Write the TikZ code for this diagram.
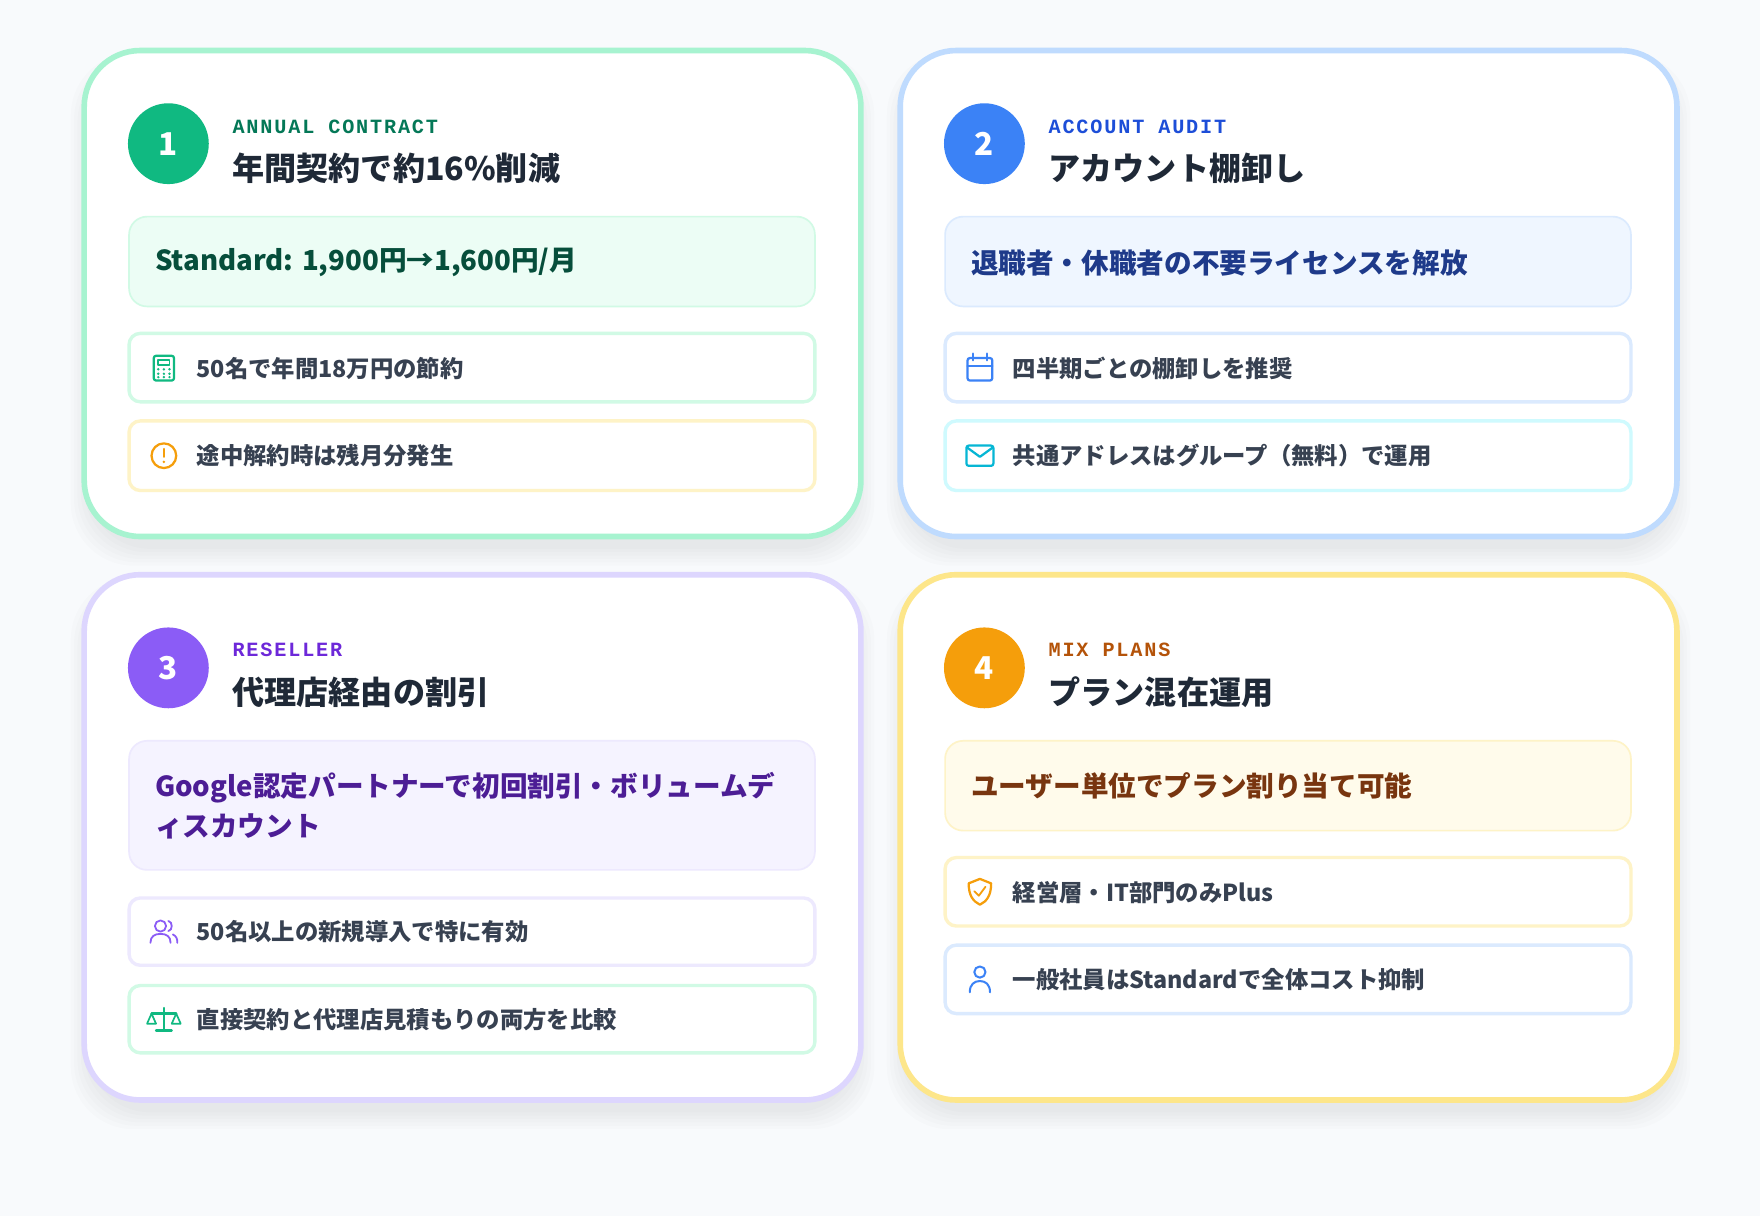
\documentclass[tikz,border=0pt]{standalone}
\usepackage{fontspec}
\setmainfont{Noto Sans CJK JP}
\newfontfamily\monofont[LetterSpace=9]{Liberation Mono}
\usetikzlibrary{positioning}

\definecolor{bg}{HTML}{F8FAFC}
\definecolor{ink}{HTML}{1F2937}
\definecolor{itemtext}{HTML}{374151}
% green
\definecolor{gA}{HTML}{A7F3D0}\definecolor{gB}{HTML}{10B981}\definecolor{gC}{HTML}{047857}
\definecolor{gD}{HTML}{ECFDF5}\definecolor{gE}{HTML}{D1FAE5}\definecolor{gF}{HTML}{064E3B}
% blue
\definecolor{bA}{HTML}{BFDBFE}\definecolor{bB}{HTML}{3B82F6}\definecolor{bC}{HTML}{1D4ED8}
\definecolor{bD}{HTML}{EFF6FF}\definecolor{bE}{HTML}{DBEAFE}\definecolor{bF}{HTML}{1E3A8A}
% purple
\definecolor{pA}{HTML}{DDD6FE}\definecolor{pB}{HTML}{8B5CF6}\definecolor{pC}{HTML}{6D28D9}
\definecolor{pD}{HTML}{F5F3FF}\definecolor{pE}{HTML}{EDE9FE}\definecolor{pF}{HTML}{4C1D95}
% amber
\definecolor{yA}{HTML}{FDE68A}\definecolor{yB}{HTML}{F59E0B}\definecolor{yC}{HTML}{B45309}
\definecolor{yD}{HTML}{FFFBEB}\definecolor{yE}{HTML}{FEF3C7}\definecolor{yF}{HTML}{78350F}
\definecolor{cyanB}{HTML}{06B6D4}\definecolor{cyanE}{HTML}{CFFAFE}

\tikzset{
  card/.style={line width=5pt, rounded corners=50pt, fill=white},
  cardshadow/.style={fill=black, opacity=0.012, rounded corners=56pt},
  badge/.style={circle, minimum size=72pt, inner sep=0pt, text=white,
    font=\fontsize{28}{30}\selectfont\bfseries},
  tag/.style={anchor=west, inner sep=0pt, font=\monofont\fontsize{18}{20}\selectfont\bfseries},
  headline/.style={anchor=west, inner sep=0pt, text=ink, font=\fontsize{28.6}{32}\selectfont\bfseries},
  hlbox/.style={line width=1.5pt, rounded corners=16pt},
  hltext/.style={anchor=west, inner sep=0pt, align=left, font=\fontsize{24.6}{36}\selectfont\bfseries},
  itembox/.style={line width=3pt, rounded corners=10pt, fill=white},
  itemtext/.style={anchor=west, inner sep=0pt, text=itemtext, font=\fontsize{20.8}{24}\selectfont\bfseries},
  icon/.style={line width=2pt, line cap=round, line join=round},
}
\newcommand\softshadow[4]{%
  \foreach \d in {0,3,...,15}
    \fill[cardshadow] (#1-\d,#2+14-\d) rectangle (#3+\d,#4+14+\d);}

\begin{document}
\begin{tikzpicture}[x=1pt, y=-1pt]
  \fill[bg] (0,0) rectangle (1568,1083);
  \useasboundingbox (0,0) rectangle (1568,1083);

  % shadows
  \softshadow{78}{48}{764}{475}
  \softshadow{805}{48}{1491}{475}
  \softshadow{78}{515}{764}{977}
  \softshadow{805}{515}{1491}{977}

  % card 1
  \draw[card, draw=gA] (75,45) rectangle (767,478);
  \node[badge, fill=gB] (b1) at (150,128) {1};
  \node[tag, text=gC] (t1) at (207,113) {ANNUAL CONTRACT};
  \node[headline] (h1) at (207,150) {年間契約で約16\%削減};
  \draw[hlbox, fill=gD, draw=gE] (115,193) rectangle (726,273);
  \node[hltext, text=gF] (s1) at (138,234) {Standard: 1,900円→1,600円/月};
  \draw[itembox, draw=gE] (115,297) rectangle (726,358);
  \node[itemtext] (i11) at (175,328) {50名で年間18万円の節約};
  \draw[itembox, draw=yE] (115,375) rectangle (726,437);
  \node[itemtext] (i12) at (175,406) {途中解約時は残月分発生};
  % calculator
  \draw[icon, gB, rounded corners=2pt] (137,317) rectangle (155,339);
  \draw[icon, gB, line width=1.5pt] (141,321) rectangle (151,325);
  \foreach \px in {141,146,151} \foreach \py in {329,333,336}
    \fill[gB] (\px,\py) circle (1.2pt);
  % alert
  \draw[icon, yB] (146,406) circle (11pt);
  \draw[icon, yB] (146,400) -- (146,407);
  \fill[yB] (146,411.5) circle (1.3pt);

  % card 2
  \draw[card, draw=bA] (802,45) rectangle (1494,478);
  \node[badge, fill=bB] (b2) at (877,128) {2};
  \node[tag, text=bC] (t2) at (934,113) {ACCOUNT AUDIT};
  \node[headline] (h2) at (934,150) {アカウント棚卸し};
  \draw[hlbox, fill=bD, draw=bE] (842,193) rectangle (1453,273);
  \node[hltext, text=bF] (s2) at (865,234) {退職者・休職者の不要ライセンスを解放};
  \draw[itembox, draw=bE] (842,297) rectangle (1453,358);
  \node[itemtext] (i21) at (902,328) {四半期ごとの棚卸しを推奨};
  \draw[itembox, draw=cyanE] (842,375) rectangle (1453,437);
  \node[itemtext] (i22) at (902,406) {共通アドレスはグループ（無料）で運用};
  % calendar
  \draw[icon, bB, rounded corners=2pt] (862,319) rectangle (884,339);
  \draw[icon, bB] (862,326) -- (884,326);
  \draw[icon, bB] (867,315) -- (867,321) (879,315) -- (879,321);
  % mail
  \draw[icon, cyanB, rounded corners=2pt] (861,397) rectangle (885,415);
  \draw[icon, cyanB] (862,399) -- (873,407) -- (884,399);

  % card 3
  \draw[card, draw=pA] (75,512) rectangle (767,980);
  \node[badge, fill=pB] (b3) at (150,595) {3};
  \node[tag, text=pC] (t3) at (207,579) {RESELLER};
  \node[headline] (h3) at (207,617) {代理店経由の割引};
  \draw[hlbox, fill=pD, draw=pE] (115,660) rectangle (726,775);
  \node[hltext, text=pF] (s3) at (138,718) {Google認定パートナーで初回割引・ボリュームデ\\ィスカウント};
  \draw[itembox, draw=pE] (115,800) rectangle (726,860);
  \node[itemtext] (i31) at (175,830) {50名以上の新規導入で特に有効};
  \draw[itembox, draw=gE] (115,878) rectangle (726,938);
  \node[itemtext] (i32) at (175,908) {直接契約と代理店見積もりの両方を比較};
  % users
  \draw[icon, pB, line width=1.6pt] (143,825) circle (5pt);
  \draw[icon, pB, line width=1.6pt] (134,840) .. controls (134,834) and (138,832) .. (143,832)
    .. controls (148,832) and (152,834) .. (152,840);
  \draw[icon, pB, line width=1.6pt] (150,820.5) .. controls (154,821) and (154,829) .. (150,829.5);
  \draw[icon, pB, line width=1.6pt] (154,832.5) .. controls (157,834) and (158,836) .. (158,840);
  % scales
  \draw[icon, gB] (146,898) -- (146,918) (139,918) -- (153,918) (135,903) -- (157,903);
  \draw[icon, gB, line width=1.5pt] (135,903) -- (131,912) -- (139,912) -- cycle;
  \draw[icon, gB, line width=1.5pt] (157,903) -- (153,912) -- (161,912) -- cycle;

  % card 4
  \draw[card, draw=yA] (802,512) rectangle (1494,980);
  \node[badge, fill=yB] (b4) at (877,595) {4};
  \node[tag, text=yC] (t4) at (934,579) {MIX PLANS};
  \node[headline] (h4) at (934,617) {プラン混在運用};
  \draw[hlbox, fill=yD, draw=yE] (842,660) rectangle (1453,740);
  \node[hltext, text=yF] (s4) at (865,700) {ユーザー単位でプラン割り当て可能};
  \draw[itembox, draw=yE] (842,764) rectangle (1453,825);
  \node[itemtext] (i41) at (902,795) {経営層・IT部門のみPlus};
  \draw[itembox, draw=bE] (842,842) rectangle (1453,903);
  \node[itemtext] (i42) at (902,873) {一般社員はStandardで全体コスト抑制};
  % shield
  \draw[icon, yB] (873,783) -- (883,787) .. controls (883,798) and (879,803) .. (873,806)
    .. controls (867,803) and (863,798) .. (863,787) -- cycle;
  \draw[icon, yB, line width=1.6pt] (868,794) -- (872,798) -- (878,790);
  % user
  \draw[icon, bB, line width=1.8pt] (873,866) circle (5pt);
  \draw[icon, bB, line width=1.8pt] (864,884) .. controls (864,877) and (868,874) .. (873,874)
    .. controls (878,874) and (882,877) .. (882,884);
\end{tikzpicture}
\end{document}
